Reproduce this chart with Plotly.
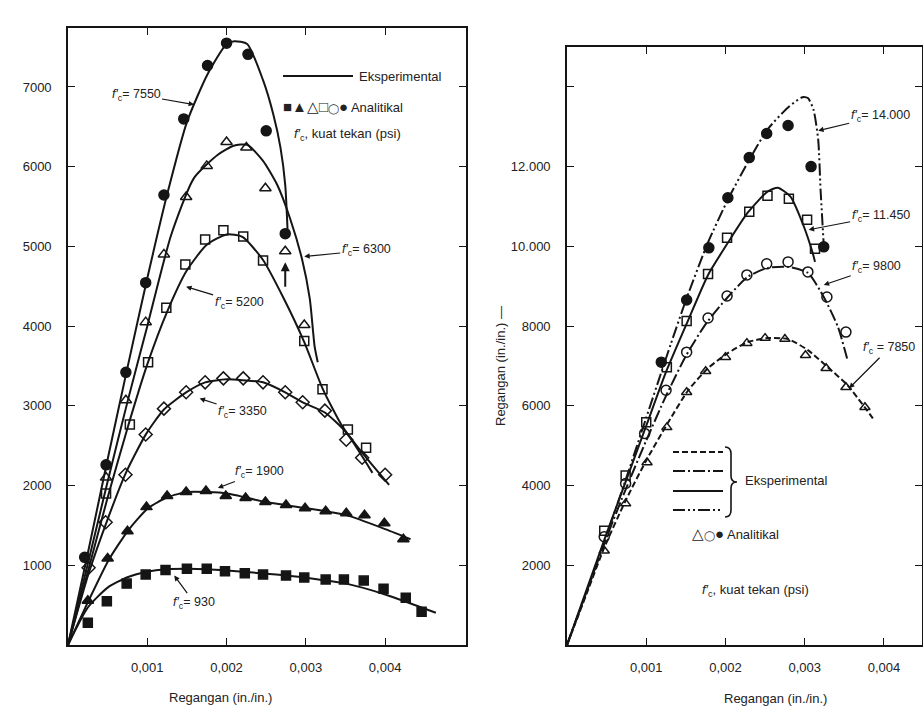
import plotly.graph_objects as go

W, H = 923, 713

# ---------------- Left chart data ----------------
# Analytical points
an7550_x = [0.00021, 0.00048, 0.00073, 0.00098, 0.00121, 0.00146, 0.00176, 0.00200, 0.00227, 0.00250, 0.00274]
an7550_y = [1100, 2260, 3420, 4545, 5645, 6600, 7270, 7550, 7410, 6450, 5160]

an6300_x = [0.00048, 0.00073, 0.00098, 0.00121, 0.00149, 0.00175, 0.00200, 0.00225, 0.00249, 0.00274, 0.00298]
an6300_y = [2100, 3070, 4050, 4900, 5620, 6010, 6310, 6240, 5730, 4940, 4015]

an5200_x = [0.00048, 0.00078, 0.00101, 0.00124, 0.00148, 0.00173, 0.00196, 0.00221, 0.00246, 0.00298, 0.00321, 0.00353, 0.00376]
an5200_y = [1900, 2765, 3548, 4230, 4773, 5088, 5202, 5126, 4823, 3813, 3207, 2702, 2475]

an3350_x = [0.00026, 0.000475, 0.000725, 0.00098, 0.00121, 0.00149, 0.00173, 0.00196, 0.00221, 0.00246, 0.00274, 0.00296, 0.00324, 0.00351, 0.00371, 0.00400]
an3350_y = [970, 1540, 2135, 2640, 2965, 3170, 3295, 3345, 3345, 3295, 3170, 3045, 2940, 2575, 2350, 2135]

an1900_x = [0.00025, 0.0005, 0.00075, 0.00099, 0.00125, 0.00149, 0.00174, 0.00199, 0.00224, 0.00249, 0.00275, 0.00299, 0.00325, 0.00351, 0.00374, 0.00399, 0.00423]
an1900_y = [556, 1086, 1427, 1730, 1869, 1919, 1932, 1869, 1843, 1793, 1755, 1717, 1679, 1654, 1629, 1528, 1326]

an930_x = [0.00025, 0.00049, 0.00074, 0.00098, 0.00123, 0.0015, 0.00175, 0.00198, 0.00223, 0.00246, 0.00275, 0.00298, 0.00325, 0.00348, 0.00373, 0.00398, 0.00426, 0.00446]
an930_y = [278, 550, 770, 884, 940, 955, 955, 925, 900, 884, 871, 846, 821, 821, 808, 707, 593, 417]

# Experimental curves
ex7550_x = [0, 0.00025, 0.0005, 0.00075, 0.001, 0.00125, 0.0015, 0.00176, 0.002, 0.0021, 0.00226, 0.00246, 0.00259, 0.00268, 0.00274, 0.00277]
ex7550_y = [0, 1150, 2330, 3480, 4600, 5650, 6560, 7160, 7540, 7575, 7540, 7085, 6655, 6240, 5770, 5190]

ex6300_x = [0, 0.00025, 0.0005, 0.00075, 0.001, 0.0013, 0.00159, 0.00189, 0.00209, 0.00226, 0.00246, 0.00264, 0.0028, 0.00295, 0.00305, 0.00311, 0.00315]
ex6300_y = [0, 1020, 2050, 3050, 4000, 5140, 5860, 6150, 6263, 6275, 6073, 5770, 5354, 4848, 4343, 3750, 3548]

ex5200_x = [0, 0.00025, 0.0005, 0.00075, 0.001, 0.00125, 0.0015, 0.00175, 0.002, 0.0022, 0.00246, 0.00272, 0.00298, 0.00321, 0.00345, 0.00372, 0.00405]
ex5200_y = [0, 920, 1850, 2720, 3520, 4180, 4700, 5020, 5150, 5120, 4830, 4350, 3800, 3220, 2760, 2400, 2008]

ex3350_x = [0, 0.00026, 0.00051, 0.00073, 0.00098, 0.00121, 0.00149, 0.00173, 0.002, 0.00221, 0.00246, 0.00274, 0.00296, 0.00324, 0.00351, 0.00384]
ex3350_y = [0, 896, 1604, 2159, 2639, 2955, 3169, 3295, 3333, 3321, 3295, 3169, 3043, 2917, 2664, 2159]

ex1900_x = [0, 0.00026, 0.00051, 0.00076, 0.00101, 0.00126, 0.00151, 0.00176, 0.00201, 0.00251, 0.003, 0.00351, 0.00401, 0.00432]
ex1900_y = [0, 556, 1061, 1439, 1717, 1856, 1919, 1919, 1900, 1790, 1717, 1629, 1450, 1326]

ex930_x = [0, 0.00025, 0.0005, 0.00075, 0.001, 0.00125, 0.0015, 0.00175, 0.002, 0.0025, 0.00276, 0.003, 0.00351, 0.00401, 0.00464]
ex930_y = [0, 470, 720, 850, 920, 950, 955, 950, 935, 895, 871, 845, 770, 631, 404]

# ---------------- Right chart data ----------------
an14000_x = [0.00119, 0.00151, 0.00179, 0.00203, 0.0023, 0.00252, 0.00279, 0.00308, 0.00324]
an14000_y = [7094, 8654, 9962, 11220, 12226, 12830, 13031, 12000, 9987]

an11450_x = [0.00047, 0.00074, 0.001, 0.00126, 0.00151, 0.00178, 0.00202, 0.0023, 0.00253, 0.0028, 0.00303, 0.00313]
an11450_y = [2868, 4252, 5585, 6970, 8126, 9308, 10214, 10868, 11270, 11195, 10667, 9937]

an9800_x = [0.00047, 0.00074, 0.00098, 0.00125, 0.00151, 0.00178, 0.00202, 0.00227, 0.00252, 0.00279, 0.00304, 0.00328, 0.00352]
an9800_y = [2717, 4050, 5308, 6390, 7346, 8201, 8755, 9283, 9560, 9610, 9358, 8730, 7849]

an7850_x = [0.00047, 0.00074, 0.00101, 0.00126, 0.00151, 0.00175, 0.002, 0.00227, 0.0025, 0.00275, 0.00301, 0.00327, 0.00352, 0.00376]
an7850_y = [2365, 3547, 4579, 5459, 6340, 6868, 7220, 7572, 7698, 7673, 7270, 6943, 6465, 5962]

ex14000_x = [0, 0.00025, 0.0005, 0.00075, 0.001, 0.0012, 0.00131, 0.00151, 0.00178, 0.00203, 0.00228, 0.00253, 0.00279, 0.00297, 0.00304, 0.00311, 0.00317, 0.0032, 0.00324]
ex14000_y = [0, 1350, 2750, 4200, 5700, 6900, 7550, 8700, 10100, 11170, 12101, 12931, 13484, 13740, 13720, 13434, 12679, 11421, 10038]

ex11450_x = [0, 0.00025, 0.0005, 0.00075, 0.001, 0.00125, 0.00153, 0.00178, 0.00203, 0.00228, 0.00253, 0.00266, 0.00282, 0.00299, 0.0031, 0.00313]
ex11450_y = [0, 1400, 2800, 4150, 5500, 6850, 8150, 9283, 10088, 10843, 11371, 11472, 11245, 10491, 9836, 9610]

ex9800_x = [0, 0.00025, 0.0005, 0.00075, 0.001, 0.00125, 0.0015, 0.00175, 0.00203, 0.00228, 0.00253, 0.00279, 0.00304, 0.00324, 0.00342, 0.00354]
ex9800_y = [0, 1350, 2700, 3950, 5130, 6250, 7250, 8050, 8730, 9233, 9459, 9484, 9333, 8730, 7975, 7145]

ex7850_x = [0, 0.00025, 0.00047, 0.00074, 0.001, 0.00127, 0.00153, 0.00178, 0.00203, 0.00228, 0.00253, 0.00279, 0.00304, 0.00329, 0.00354, 0.00386]
ex7850_y = [0, 1300, 2440, 3623, 4629, 5560, 6390, 6943, 7321, 7597, 7698, 7673, 7396, 6969, 6516, 5686]

# tick labels
left_xticks = [0.001, 0.002, 0.003, 0.004]
left_xtext = ["0,001", "0,002", "0,003", "0,004"]
left_yticks = [1000, 2000, 3000, 4000, 5000, 6000, 7000]
left_ytext = ["1000", "2000", "3000", "4000", "5000", "6000", "7000"]
right_xticks = [0.001, 0.002, 0.003, 0.004]
right_xtext = ["0,001", "0,002", "0,003", "0,004"]
right_yticks = [2000, 4000, 6000, 8000, 10000, 12000, 14000]
right_ytext = ["2000", "4000", "6000", "8000", "10.000", "12.000", " "]

INK = "#151515"
TXT = "#222"
FONT = "Liberation Sans, Arial, sans-serif"


def P(px, py):
    return px / W, 1 - py / H


fig = go.Figure()


def line(x, y, ax="x", ay="y", dash="solid", width=2.0):
    fig.add_trace(go.Scatter(x=x, y=y, mode="lines", xaxis=ax, yaxis=ay,
                             line=dict(color=INK, width=width, dash=dash, shape="spline", smoothing=0.6),
                             showlegend=False, hoverinfo="skip"))


def pts(x, y, symbol, ax="x", ay="y", size=9):
    fig.add_trace(go.Scatter(x=x, y=y, mode="markers", xaxis=ax, yaxis=ay,
                             marker=dict(symbol=symbol, size=size, color=INK,
                                         line=dict(color=INK, width=1.5)),
                             showlegend=False, hoverinfo="skip"))


# left curves
for xs, ys in [(ex7550_x, ex7550_y), (ex6300_x, ex6300_y), (ex5200_x, ex5200_y),
               (ex3350_x, ex3350_y), (ex1900_x, ex1900_y), (ex930_x, ex930_y)]:
    line(xs, ys)
pts(an7550_x, an7550_y, "circle", size=10)
pts(an6300_x, an6300_y, "triangle-up-open", size=10)
pts(an5200_x, an5200_y, "square-open", size=9)
pts(an3350_x, an3350_y, "diamond-open", size=10)
pts(an1900_x, an1900_y, "triangle-up", size=10)
pts(an930_x, an930_y, "square", size=9)

# right curves
DASHDOTDOT = "12px,3px,2px,3px,2px,3px"
DASHDOT = "12px,3px,2px,3px"
DASHED = "6px,3px"
line(ex14000_x, ex14000_y, "x2", "y2", dash=DASHDOTDOT)
line(ex11450_x, ex11450_y, "x2", "y2", dash="solid")
line(ex9800_x, ex9800_y, "x2", "y2", dash=DASHDOT)
line(ex7850_x, ex7850_y, "x2", "y2", dash=DASHED)
pts(an14000_x, an14000_y, "circle", "x2", "y2", size=10)
pts(an11450_x, an11450_y, "square-open", "x2", "y2", size=9)
pts(an9800_x, an9800_y, "circle-open", "x2", "y2", size=10)
pts(an7850_x, an7850_y, "triangle-up-open", "x2", "y2", size=9)

axis_common = dict(showline=True, linecolor=INK, linewidth=1.6, mirror="allticks",
                   ticks="inside", ticklen=7, tickwidth=1.4, tickcolor=INK,
                   showgrid=False, zeroline=False,
                   tickfont=dict(family=FONT, size=13, color=TXT))

fig.update_layout(
    width=W, height=H, margin=dict(l=0, r=0, t=0, b=0),
    paper_bgcolor="white", plot_bgcolor="white",
    font=dict(family=FONT, size=13, color=TXT),
    xaxis=dict(domain=[68 / W, 466 / W], range=[0, 0.00502], tickvals=left_xticks, ticktext=left_xtext,
               anchor="y", ticklabelstandoff=10, **axis_common),
    yaxis=dict(domain=[1 - 645 / H, 1 - 28 / H], range=[0, 7740], tickvals=left_yticks, ticktext=left_ytext,
               anchor="x", ticklabelstandoff=12, **axis_common),
    xaxis2=dict(domain=[567 / W, 922 / W], range=[0, 0.00448], tickvals=right_xticks, ticktext=right_xtext,
                anchor="y2", ticklabelstandoff=10, **axis_common),
    yaxis2=dict(domain=[1 - 645 / H, 1 - 47 / H], range=[0, 15000], tickvals=right_yticks, ticktext=right_ytext,
                anchor="x2", ticklabelstandoff=12, **axis_common),
)

FC = "<i>f′</i><sub>c</sub>"
ann = []


def label(text, x, y, ax, ay, xref="x", yref="y"):
    ann.append(dict(text=text, x=x, y=y, xref=xref, yref=yref, ax=ax, ay=ay,
                    showarrow=True, arrowhead=2, arrowsize=0.9, arrowwidth=1.2, arrowcolor=INK,
                    font=dict(family=FONT, size=12.5, color=TXT)))


# left labels
label(FC + "= 7550", 0.00159, 6780, -58, -10)
label(FC + "= 6300", 0.00298, 4874, 62, -6)
label(FC + "= 5200", 0.00149, 4495, 53, 16)
label(FC + "= 3350", 0.00166, 3093, 43, 14)
label(FC + "= 1900", 0.00189, 1970, 42, -16)
label(FC + "= 930", 0.00134, 871, 20, 27)
# small arrow below triangle
ann.append(dict(text="", x=0.00274, y=4800, xref="x", yref="y", ax=0, ay=26, showarrow=True,
                arrowhead=2, arrowsize=0.9, arrowwidth=2, arrowcolor=INK))

# right labels
label(FC + "= 14.000", 0.00317, 12900, 62, -15, "x2", "y2")
label(FC + "= 11.450", 0.00305, 10415, 72, -14, "x2", "y2")
label(FC + "= 9800", 0.00324, 9031, 53, -18, "x2", "y2")
label(FC + " = 7850", 0.00356, 6440, 40, -40, "x2", "y2")


def text(t, px, py, anchor="left", angle=0, size=13):
    x, y = P(px, py)
    ann.append(dict(text=t, x=x, y=y, xref="paper", yref="paper", showarrow=False,
                    xanchor=anchor, yanchor="middle", textangle=angle,
                    font=dict(family=FONT, size=size, color=TXT)))


BIG = "<span style='font-size:15px'>"
SMALLO = "<span style='font-size:10px'>◯</span>"
# left legend
text("Eksperimental", 357, 76)
text(BIG + "■▲△□</span>" + SMALLO + BIG + "●</span> Analitikal", 281, 106)
text(FC + ", kuat tekan (psi)", 292, 135)
# right legend
text("Eksperimental", 743, 480)
text(BIG + "△</span>" + SMALLO + BIG + "●</span> Analitikal", 690, 533)
text(FC + ", kuat tekan (psi)", 700, 590)
# axis titles
text("Regangan (in./in.)", 220, 697, anchor="center")
text("Regangan (in./in.)", 775, 698, anchor="center")
text("Regangan (in./in.) —", 500, 366, anchor="center", angle=-90)

fig.update_layout(annotations=ann)

shapes = []
x0, y0 = P(283, 76)
x1, _ = P(353, 76)
shapes.append(dict(type="line", xref="paper", yref="paper", x0=x0, y0=y0, x1=x1, y1=y0,
                   line=dict(color=INK, width=2.2)))
for py, d in [(452, DASHED), (471, DASHDOT), (491, "solid"), (510, DASHDOTDOT)]:
    a, b = P(673, py)
    c, _ = P(723, py)
    shapes.append(dict(type="line", xref="paper", yref="paper", x0=a, y0=b, x1=c, y1=b,
                       line=dict(color=INK, width=2.2, dash=d)))


def pp(px, py):
    x, y = P(px, py)
    return f"{x:.5f},{y:.5f}"


brace = ("M " + pp(725, 447) + " Q " + pp(731, 447) + " " + pp(731, 454) +
         " L " + pp(731, 476) + " Q " + pp(731, 482) + " " + pp(737, 482) +
         " Q " + pp(731, 482) + " " + pp(731, 488) + " L " + pp(731, 510) +
         " Q " + pp(731, 517) + " " + pp(725, 517))
shapes.append(dict(type="path", xref="paper", yref="paper", path=brace,
                   line=dict(color=INK, width=1.6)))
fig.update_layout(shapes=shapes)

fig.write_html("out.html", config={"displayModeBar": False},
               post_script="document.body.style.margin='0';")
